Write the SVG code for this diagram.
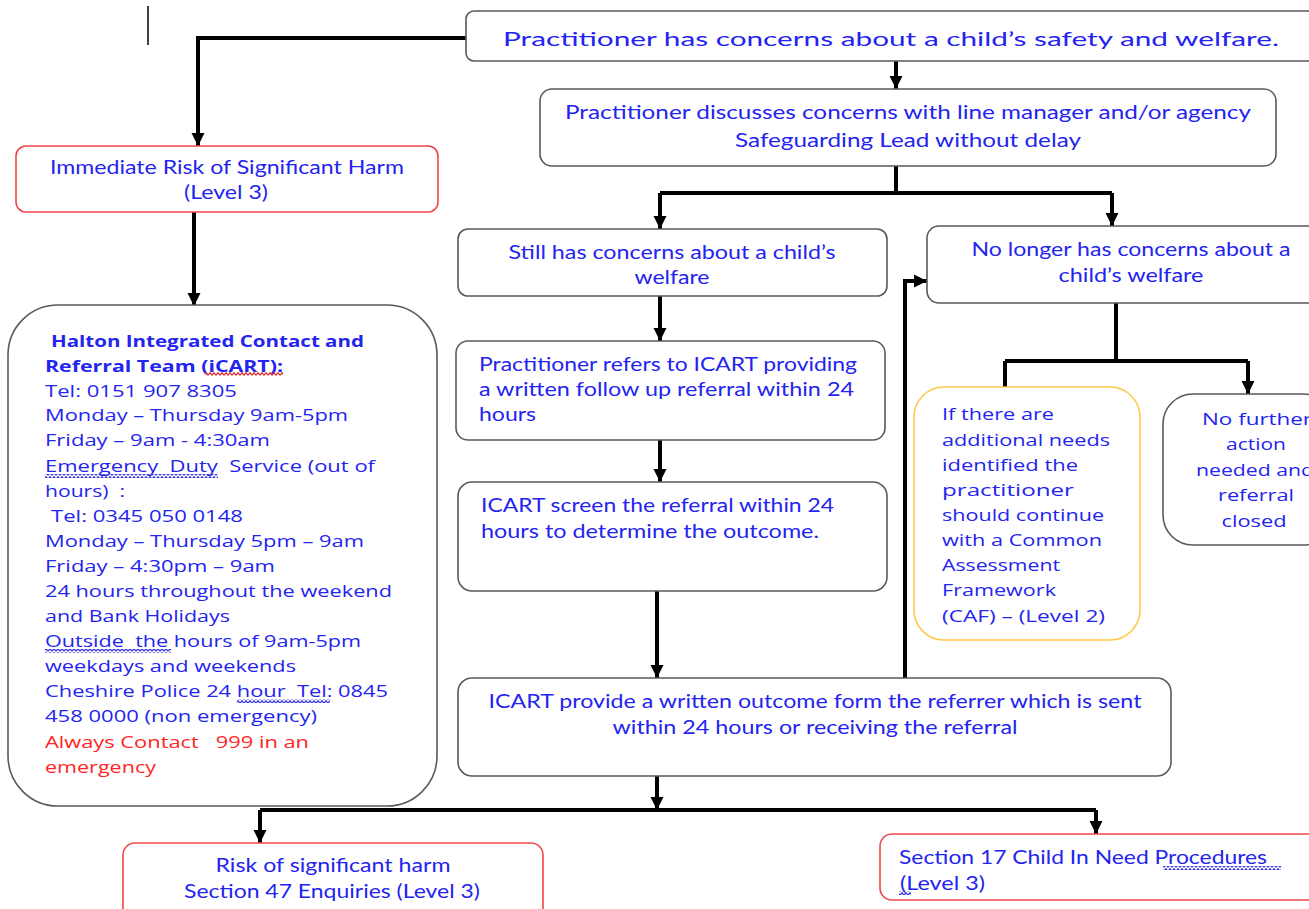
<svg xmlns="http://www.w3.org/2000/svg" width="1309" height="909" viewBox="0 0 1309 909">
<style>
.box{fill:#fff;stroke:#5a5a5a;stroke-width:1.6}
.red{stroke:#F04848}
.yel{stroke:#FFC845}
.t{font-family:Lato,"Open Sans","Liberation Sans",sans-serif;fill:#2424F0;font-size:19.5px}
.v{font-family:"Open Sans","DejaVu Sans",sans-serif;fill:#2424F0;font-size:16.5px;white-space:pre}
.b{font-weight:bold}
.r{fill:#FF2424}
.c{text-anchor:middle}
.conn{stroke:#000;stroke-width:4;fill:none}
</style>
<defs>
<marker id="ah" markerUnits="userSpaceOnUse" markerWidth="14" markerHeight="14" refX="13" refY="7" orient="auto">
<path d="M0,0.5 L13,7 L0,13.5 z" fill="#000"/>
</marker>
<pattern id="sqr" width="4" height="4" patternUnits="userSpaceOnUse"><path d="M0,3.3 L2,0.7 L4,3.3" stroke="#E03030" stroke-width="1.3" fill="none"/></pattern>
<pattern id="sqb" width="4" height="4" patternUnits="userSpaceOnUse"><path d="M0,3.3 L2,0.7 L4,3.3" stroke="#3A3AE0" stroke-width="1.3" fill="none"/></pattern>
</defs>

<line x1="148" y1="6" x2="148" y2="45" stroke="#000" stroke-width="1.5"/>

<g id="connectors">
<path class="conn" d="M466,38 H198 V146" marker-end="url(#ah)"/>
<path class="conn" d="M194,212 V306" marker-end="url(#ah)"/>
<path class="conn" d="M896,61 V89" marker-end="url(#ah)"/>
<path class="conn" d="M896,166 V193"/>
<path class="conn" d="M660,193 H1112"/>
<path class="conn" d="M660,193 V229" marker-end="url(#ah)"/>
<path class="conn" d="M1112,193 V226" marker-end="url(#ah)"/>
<path class="conn" d="M660,296 V341" marker-end="url(#ah)"/>
<path class="conn" d="M660,440 V482" marker-end="url(#ah)"/>
<path class="conn" d="M657,591 V678" marker-end="url(#ah)"/>
<path class="conn" d="M905,678 V281 H927" marker-end="url(#ah)"/>
<path class="conn" d="M1116,303 V361"/>
<path class="conn" d="M1005,361 H1248"/>
<path class="conn" d="M1005,361 V387"/>
<path class="conn" d="M1248,361 V394" marker-end="url(#ah)"/>
<path class="conn" d="M657,776 V810" marker-end="url(#ah)"/>
<path class="conn" d="M260,810 H1096"/>
<path class="conn" d="M260,810 V843" marker-end="url(#ah)"/>
<path class="conn" d="M1096,810 V834" marker-end="url(#ah)"/>
</g>

<g id="n-start">
<rect class="box" x="466" y="11" width="860" height="50" rx="8"/>
<text class="t c" x="891" y="46" font-size="26" textLength="776" lengthAdjust="spacingAndGlyphs">Practitioner has concerns about a child’s safety and welfare.</text>
</g>

<g id="n-discuss">
<rect class="box" x="540" y="89" width="736" height="77" rx="12"/>
<text class="t c" x="908" y="119" font-size="20.5" textLength="686" lengthAdjust="spacingAndGlyphs">Practitioner discusses concerns with line manager and/or agency</text>
<text class="t c" x="908" y="147" font-size="20.5" textLength="346" lengthAdjust="spacingAndGlyphs">Safeguarding Lead without delay</text>
</g>

<g id="n-immediate">
<rect class="box red" x="16" y="146" width="422" height="66" rx="10"/>
<text class="t c" x="227" y="174" textLength="354" lengthAdjust="spacingAndGlyphs">Immediate Risk of Significant Harm</text>
<text class="t c" x="226" y="199" textLength="84" lengthAdjust="spacingAndGlyphs">(Level 3)</text>
</g>

<g id="n-icart">
<rect class="box" x="8" y="305" width="429" height="501" rx="50"/>
<text class="v b" x="51" y="347" textLength="313" lengthAdjust="spacingAndGlyphs">Halton Integrated Contact and</text>
<text class="v b" x="45" y="372" textLength="238" lengthAdjust="spacingAndGlyphs">Referral Team (iCART):</text>
<text class="v" x="45" y="397" textLength="192" lengthAdjust="spacingAndGlyphs">Tel: 0151 907 8305</text>
<text class="v" x="45" y="421" textLength="303" lengthAdjust="spacingAndGlyphs">Monday – Thursday 9am-5pm</text>
<text class="v" x="45" y="446" textLength="225" lengthAdjust="spacingAndGlyphs">Friday – 9am - 4:30am</text>
<text class="v" x="45" y="472" textLength="330" lengthAdjust="spacingAndGlyphs">Emergency  Duty  Service (out of</text>
<text class="v" x="45" y="497" textLength="80" lengthAdjust="spacingAndGlyphs">hours)  :</text>
<text class="v" x="51" y="522" textLength="192" lengthAdjust="spacingAndGlyphs">Tel: 0345 050 0148</text>
<text class="v" x="45" y="547" textLength="319" lengthAdjust="spacingAndGlyphs">Monday – Thursday 5pm – 9am</text>
<text class="v" x="45" y="572" textLength="230" lengthAdjust="spacingAndGlyphs">Friday – 4:30pm – 9am</text>
<text class="v" x="45" y="597" textLength="347" lengthAdjust="spacingAndGlyphs">24 hours throughout the weekend</text>
<text class="v" x="45" y="622" textLength="185" lengthAdjust="spacingAndGlyphs">and Bank Holidays</text>
<text class="v" x="45" y="647" textLength="316" lengthAdjust="spacingAndGlyphs">Outside  the hours of 9am-5pm</text>
<text class="v" x="45" y="672" textLength="251" lengthAdjust="spacingAndGlyphs">weekdays and weekends</text>
<text class="v" x="45" y="697" textLength="343" lengthAdjust="spacingAndGlyphs">Cheshire Police 24 hour  Tel: 0845</text>
<text class="v" x="45" y="722" textLength="272" lengthAdjust="spacingAndGlyphs">458 0000 (non emergency)</text>
<text class="v r" x="45" y="748" textLength="264" lengthAdjust="spacingAndGlyphs">Always Contact   999 in an</text>
<text class="v r" x="45" y="773" textLength="111" lengthAdjust="spacingAndGlyphs">emergency</text>
<rect x="205" y="372" width="78" height="4" fill="url(#sqr)"/>
<rect x="45" y="474" width="173" height="4" fill="url(#sqb)"/>
<rect x="45" y="649" width="126" height="4" fill="url(#sqb)"/>
<rect x="237" y="699" width="93" height="4" fill="url(#sqb)"/>
</g>

<g id="n-still">
<rect class="box" x="458" y="229" width="429" height="67" rx="10"/>
<text class="t c" x="672" y="259" textLength="327" lengthAdjust="spacingAndGlyphs">Still has concerns about a child’s</text>
<text class="t c" x="672" y="284" textLength="75" lengthAdjust="spacingAndGlyphs">welfare</text>
</g>

<g id="n-nolonger">
<rect class="box" x="927" y="226" width="400" height="77" rx="12"/>
<text class="t c" x="1131" y="256" textLength="319" lengthAdjust="spacingAndGlyphs">No longer has concerns about a</text>
<text class="t c" x="1131" y="282" textLength="145" lengthAdjust="spacingAndGlyphs">child’s welfare</text>
</g>

<g id="n-refers">
<rect class="box" x="456" y="341" width="429" height="99" rx="12"/>
<text class="t" x="479" y="371" textLength="378" lengthAdjust="spacingAndGlyphs">Practitioner refers to ICART providing</text>
<text class="t" x="479" y="396" textLength="375" lengthAdjust="spacingAndGlyphs">a written follow up referral within 24</text>
<text class="t" x="479" y="421" textLength="57" lengthAdjust="spacingAndGlyphs">hours</text>
</g>

<g id="n-screen">
<rect class="box" x="458" y="482" width="429" height="109" rx="14"/>
<text class="t" x="481" y="512" textLength="353" lengthAdjust="spacingAndGlyphs">ICART screen the referral within 24</text>
<text class="t" x="481" y="538" textLength="338" lengthAdjust="spacingAndGlyphs">hours to determine the outcome.</text>
</g>

<g id="n-provide">
<rect class="box" x="458" y="678" width="713" height="98" rx="14"/>
<text class="t c" x="815" y="708" textLength="653" lengthAdjust="spacingAndGlyphs">ICART provide a written outcome form the referrer which is sent</text>
<text class="t c" x="815" y="734" textLength="405" lengthAdjust="spacingAndGlyphs">within 24 hours or receiving the referral</text>
</g>

<g id="n-caf">
<rect class="box yel" x="914" y="387" width="226" height="253" rx="30"/>
<text class="v" x="942" y="420" textLength="112" lengthAdjust="spacingAndGlyphs">If there are</text>
<text class="v" x="942" y="446" textLength="168" lengthAdjust="spacingAndGlyphs">additional needs</text>
<text class="v" x="942" y="471" textLength="136" lengthAdjust="spacingAndGlyphs">identified the</text>
<text class="v" x="942" y="496" textLength="132" lengthAdjust="spacingAndGlyphs">practitioner</text>
<text class="v" x="942" y="521" textLength="162" lengthAdjust="spacingAndGlyphs">should continue</text>
<text class="v" x="942" y="546" textLength="160" lengthAdjust="spacingAndGlyphs">with a Common</text>
<text class="v" x="942" y="571" textLength="118" lengthAdjust="spacingAndGlyphs">Assessment</text>
<text class="v" x="942" y="596" textLength="114" lengthAdjust="spacingAndGlyphs">Framework</text>
<text class="v" x="942" y="622" textLength="163" lengthAdjust="spacingAndGlyphs">(CAF) – (Level 2)</text>
</g>

<g id="n-nofurther">
<rect class="box" x="1163" y="394" width="170" height="151" rx="30"/>
<text class="v c" x="1257" y="425" textLength="110" lengthAdjust="spacingAndGlyphs">No further</text>
<text class="v c" x="1256" y="450" textLength="60" lengthAdjust="spacingAndGlyphs">action</text>
<text class="v c" x="1255" y="476" textLength="118" lengthAdjust="spacingAndGlyphs">needed and</text>
<text class="v c" x="1256" y="501" textLength="76" lengthAdjust="spacingAndGlyphs">referral</text>
<text class="v c" x="1254" y="527" textLength="65" lengthAdjust="spacingAndGlyphs">closed</text>
</g>

<g id="n-risk">
<rect class="box red" x="123" y="843" width="420" height="80" rx="12"/>
<text class="t c" x="333" y="872" textLength="235" lengthAdjust="spacingAndGlyphs">Risk of significant harm</text>
<text class="t c" x="332" y="898" textLength="296" lengthAdjust="spacingAndGlyphs">Section 47 Enquiries (Level 3)</text>
</g>

<g id="n-s17">
<rect class="box red" x="880" y="834" width="450" height="66" rx="12"/>
<text class="t" x="899" y="864" textLength="368" lengthAdjust="spacingAndGlyphs">Section 17 Child In Need Procedures</text>
<text class="t" x="900" y="890" textLength="85" lengthAdjust="spacingAndGlyphs">(Level 3)</text>
<rect x="1163" y="866" width="118" height="4" fill="url(#sqb)"/>
<rect x="899" y="891" width="12" height="4" fill="url(#sqb)"/>
</g>
</svg>
